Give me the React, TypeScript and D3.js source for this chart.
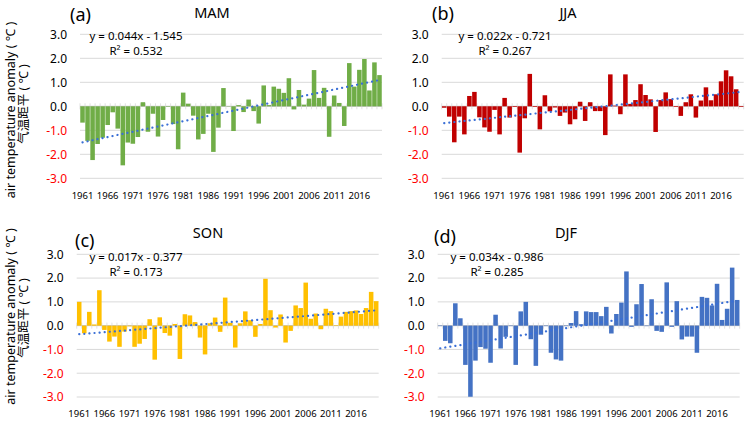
import React from 'react';
import * as d3 from 'd3';

// categories
const years = d3.range(1961, 2021);
const tickYears = years.filter((_, i) => i % 5 === 0);
const yTicks = [3, 2, 1, 0, -1, -2, -3];

// seasonal anomalies
const mam = [
  -0.68, -1.44, -2.24, -1.57, -1.31, -0.78, -0.25, -0.93, -2.46, -1.51,
  -1.56, -1.28, 0.17, -1.06, -0.31, -1.26, -0.57, -0.02, -0.74, -1.79,
  0.57, 0.11, -0.39, -1.38, -1.15, -0.31, -1.9, -0.89, 0.76, 0.01,
  -1.03, 0.05, -0.24, 0.28, -0.2, -0.72, 0.87, 0.05, 0.82, 0.73,
  0.56, 1.17, -0.13, 0.68, 0.07, 0.32, 1.51, 0.35, 0.77, -1.27,
  0.45, 0.14, -0.82, 1.8, 0.82, 1.52, 1.97, 0.66, 1.83, 1.3,
];
const jja = [
  -0.06, -0.43, -1.5, -0.43, -1.17, 0.43, 0.6, -0.46, -0.88, -1.06,
  -0.15, -1.17, 0.35, -0.47, -0.03, -1.93, -0.5, 1.35, -0.03, -0.96,
  0.46, -0.21, -0.05, -0.4, -0.26, -0.75, -0.54, 0.19, -0.61, 0.17,
  -0.2, -0.2, -1.2, 1.33, 0.03, -0.33, 1.33, 0.1, 0.26, 0.92,
  0.47, 0.29, -1.07, 0.26, 0.58, 0.3, -0.03, -0.4, 0.17, 0.5,
  -0.47, 0.24, 0.79, 0.25, 0.5, 1.04, 1.5, 1.25, 0.71, -0.03,
];
const son = [
  1.0, -0.32, 0.58, 0.05, 1.49, -0.18, -0.67, -0.46, -0.89, -0.25,
  -0.03, -0.89, -0.76, -0.56, 0.27, -1.43, 0.35, -0.31, -0.42, 0.07,
  -1.4, 0.48, 0.43, 0.15, -0.5, -1.21, 0.1, 0.34, -0.26, 1.18,
  0.12, -0.92, 0.1, 0.6, 0.23, -0.47, 0.07, 1.97, 0.65, -0.08,
  0.47, -0.71, -0.22, 0.85, 0.74, 1.81, 0.29, 0.51, -0.15, 0.71,
  0.61, 0.02, 0.38, 0.58, 0.61, 0.64, 0.49, 0.74, 1.42, 1.03,
];
const djf = [
  -0.02, -0.64, -0.74, 0.94, 0.31, -1.65, -2.99, -1.47, -0.9, -0.97,
  -1.56, 0.46, -0.96, -0.47, -0.02, -1.65, 0.6, 1.0, -0.57, -1.69,
  -0.38, -0.02, -1.14, -1.42, -1.47, -0.02, 0.11, 0.61, 0.06, 0.6,
  0.57, 0.57, 0.4, 0.79, -0.33, 0.49, 0.97, 2.28, -0.05, 0.9,
  1.75, -0.02, 1.11, -0.22, -0.26, 1.82, -0.05, 1.03, -0.58, -0.46,
  -0.46, -1.14, 1.21, 1.17, 0.85, 1.76, 0.24, 0.71, 2.44, 1.08,
];

const font = '"Noto Sans", "Noto Sans CJK SC", sans-serif';

const panels = [
  { tag: '(a)', season: 'MAM', values: mam, color: '#70AD47', slope: 0.044, intercept: -1.545,
    eq: 'y = 0.044x - 1.545', r2: 'R² = 0.532',
    left: 80, right: 382, top: 34.3, bottom: 178.3,
    tagX: 70, tagY: 21, titleX: 212, titleY: 18, eqX: 136, eqY: 40, xLabY: 199 },
  { tag: '(b)', season: 'JJA', values: jja, color: '#C00000', slope: 0.022, intercept: -0.721,
    eq: 'y = 0.022x - 0.721', r2: 'R² = 0.267',
    left: 441.7, right: 743.7, top: 34.3, bottom: 178.3,
    tagX: 432, tagY: 20, titleX: 568, titleY: 18, eqX: 505, eqY: 40, xLabY: 199 },
  { tag: '(c)', season: 'SON', values: son, color: '#FFC000', slope: 0.017, intercept: -0.377,
    eq: 'y = 0.017x - 0.377', r2: 'R² = 0.173',
    left: 76.7, right: 378.7, top: 254.3, bottom: 397,
    tagX: 75, tagY: 247, titleX: 208, titleY: 238, eqX: 136, eqY: 261, xLabY: 417 },
  { tag: '(d)', season: 'DJF', values: djf, color: '#4472C4', slope: 0.034, intercept: -0.986,
    eq: 'y = 0.034x - 0.986', r2: 'R² = 0.285',
    left: 437.7, right: 739.7, top: 254.3, bottom: 397,
    tagX: 434, tagY: 243, titleX: 566, titleY: 238, eqX: 497, eqY: 261, xLabY: 417 },
];

type PanelProps = { p: typeof panels[number] };

const Panel: React.FC<PanelProps> = ({ p }) => {
  const x = d3.scaleBand<number>().domain(years).range([p.left, p.right]).paddingInner(0.1).paddingOuter(0.05);
  const y = d3.scaleLinear().domain([-3, 3]).range([p.bottom, p.top]);
  const step = x.step();
  const center = (yr: number) => (x(yr) as number) + x.bandwidth() / 2;

  // trend line through category indices 1..60
  const trendPts: [number, number][] = [1, years.length].map((i) => [center(years[i - 1]), y(p.slope * i + p.intercept)]);
  const trend = d3.line()(trendPts) as string;

  const boundaries = d3.range(years.length + 1).map((i) => p.left + i * step);

  return (
    <g>
      {yTicks.map((t) => (
        <g key={t}>
          <line x1={p.left} x2={p.right} y1={y(t)} y2={y(t)} stroke={t === 0 ? '#BFBFBF' : '#D9D9D9'} strokeWidth={1} />
          <text x={p.left - 13} y={y(t)} dy="0.36em" textAnchor="end" fontSize={12}
            fill={t < 0 ? '#FF0000' : '#000'} fontFamily={font}>{t.toFixed(1)}</text>
        </g>
      ))}
      {boundaries.map((bx, i) => (
        <line key={i} x1={bx} x2={bx} y1={y(0) - 3} y2={y(0) + 3} stroke="#D9D9D9" strokeWidth={0.8} />
      ))}
      {p.values.map((v, i) => (
        <rect key={i} x={x(years[i])} width={x.bandwidth()} y={Math.min(y(v), y(0))}
          height={Math.abs(y(v) - y(0))} fill={p.color} />
      ))}
      <path d={trend} fill="none" stroke="#3A6FD6" strokeWidth={2.2} strokeLinecap="round" strokeDasharray="0.1 5" />
      {tickYears.map((yr) => (
        <text key={yr} x={center(yr)} y={p.xLabY} textAnchor="middle" fontSize={9.5} fontFamily={font} fill="#000">{yr}</text>
      ))}
      <text x={p.tagX} y={p.tagY} fontSize={18} fontFamily={font} fill="#000">{p.tag}</text>
      <text x={p.titleX} y={p.titleY} textAnchor="middle" fontSize={14.5} fontFamily={font} fill="#000">{p.season}</text>
      <text x={p.eqX} y={p.eqY} textAnchor="middle" fontSize={11.5} fontFamily={font} fill="#000">{p.eq}</text>
      <text x={p.eqX} y={p.eqY + 15} textAnchor="middle" fontSize={11.5} fontFamily={font} fill="#000">{p.r2}</text>
    </g>
  );
};

const AxisTitle: React.FC<{ cy: number; cy2: number }> = ({ cy, cy2 }) => (
  <g fontFamily={font} fontSize={12.5} fill="#000">
    <text transform={`translate(10,${cy}) rotate(-90)`} textAnchor="middle" dominantBaseline="central">
      air temperature anomaly ( ℃ )
    </text>
    <text transform={`translate(23,${cy2}) rotate(-90)`} textAnchor="middle" dominantBaseline="central">
      气温距平 ( ℃ )
    </text>
  </g>
);

const App: React.FC = () => (
  <svg width={746} height={421} style={{ position: 'absolute', left: 0, top: 0, background: '#fff' }}>
    <rect width={746} height={421} fill="#fff" />
    <AxisTitle cy={110} cy2={104} />
    <AxisTitle cy={316.5} cy2={318} />
    {panels.map((p) => <Panel key={p.tag} p={p} />)}
  </svg>
);

export default App;
